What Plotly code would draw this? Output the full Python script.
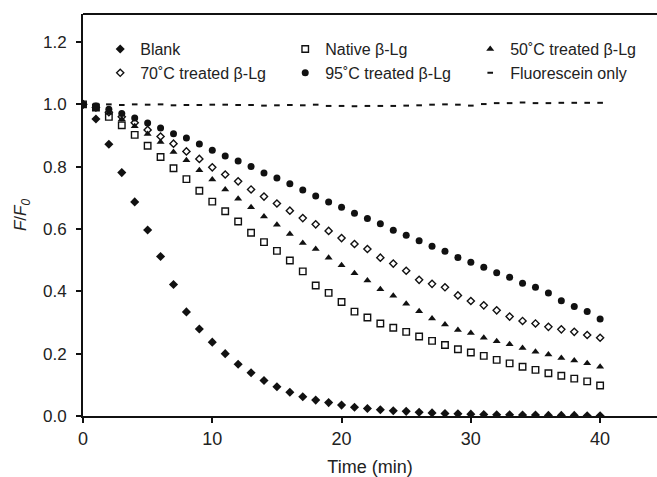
import plotly.graph_objects as go

time = list(range(0, 41))

blank = [1.0, 0.953, 0.872, 0.781, 0.687, 0.597, 0.512, 0.422, 0.334, 0.279,
         0.237, 0.200, 0.166, 0.139, 0.114, 0.094, 0.076, 0.062, 0.051, 0.043,
         0.035, 0.028, 0.024, 0.020, 0.017, 0.015, 0.012, 0.010, 0.008, 0.007,
         0.006, 0.005, 0.004, 0.004, 0.003, 0.003, 0.002, 0.002, 0.002, 0.001, 0.001]

native = [1.0, 0.990, 0.960, 0.933, 0.902, 0.867, 0.831, 0.795, 0.760, 0.723,
          0.688, 0.657, 0.624, 0.588, 0.558, 0.530, 0.499, 0.464, 0.419, 0.395,
          0.366, 0.335, 0.316, 0.297, 0.283, 0.270, 0.255, 0.241, 0.228, 0.214,
          0.204, 0.193, 0.180, 0.169, 0.158, 0.148, 0.137, 0.129, 0.120, 0.111, 0.098]

t50 = [1.0, 0.987, 0.973, 0.952, 0.930, 0.905, 0.879, 0.847, 0.821, 0.789,
       0.759, 0.727, 0.697, 0.670, 0.640, 0.614, 0.584, 0.555, 0.536, 0.508,
       0.484, 0.458, 0.435, 0.407, 0.386, 0.360, 0.336, 0.313, 0.294, 0.276,
       0.266, 0.251, 0.240, 0.230, 0.218, 0.206, 0.197, 0.186, 0.178, 0.169, 0.158]

t70 = [1.0, 0.990, 0.975, 0.960, 0.941, 0.918, 0.897, 0.874, 0.849, 0.825,
       0.798, 0.775, 0.753, 0.727, 0.704, 0.682, 0.659, 0.635, 0.615, 0.594,
       0.571, 0.552, 0.536, 0.508, 0.489, 0.466, 0.437, 0.424, 0.413, 0.387,
       0.369, 0.355, 0.339, 0.319, 0.305, 0.297, 0.286, 0.278, 0.270, 0.260, 0.251]

t95 = [1.0, 0.995, 0.984, 0.971, 0.956, 0.940, 0.924, 0.906, 0.892, 0.873,
       0.853, 0.834, 0.818, 0.801, 0.780, 0.764, 0.745, 0.725, 0.706, 0.687,
       0.670, 0.651, 0.634, 0.617, 0.596, 0.580, 0.562, 0.545, 0.529, 0.509,
       0.493, 0.477, 0.460, 0.445, 0.426, 0.413, 0.395, 0.370, 0.351, 0.335, 0.311]

fluor = [1.000, 1.002, 1.000, 0.998, 1.000, 0.999, 1.000, 0.997, 0.998, 0.998,
         0.999, 0.999, 0.998, 0.998, 0.996, 0.997, 0.998, 0.997, 0.999, 0.995,
         0.995, 0.994, 0.995, 0.995, 0.995, 0.996, 0.997, 0.999, 1.000, 0.999,
         0.996, 1.001, 1.004, 1.004, 1.006, 1.004, 1.004, 1.005, 1.005, 1.005, 1.005]

names = ["Blank", "Native β-Lg", "50˚C treated β-Lg",
         "70˚C treated β-Lg", "95˚C treated β-Lg", "Fluorescein only"]

INK = "#111111"
FONT = "Liberation Sans, Arial, sans-serif"

series = [
    (blank, dict(symbol="diamond", size=7, color=INK)),
    (native, dict(symbol="square-open", size=6.5, color=INK, line=dict(width=1.4, color=INK))),
    (t50, dict(symbol="triangle-up", size=7, color=INK)),
    (t70, dict(symbol="diamond-open", size=5.5, color=INK, line=dict(width=1.4, color=INK))),
    (t95, dict(symbol="circle", size=7, color=INK)),
    (fluor, dict(symbol="line-ew", size=4, color=INK, line=dict(width=2, color=INK))),
]

fig = go.Figure()
for name, (ys, mk) in zip(names, series):
    fig.add_trace(go.Scatter(x=time, y=ys, mode="markers", name=name, marker=mk))

fig.update_layout(
    width=657, height=477,
    margin=dict(l=83, r=0, t=14, b=61),
    paper_bgcolor="white", plot_bgcolor="white",
    font=dict(family=FONT, size=16, color="#222222"),
    showlegend=True,
    legend=dict(orientation="h", x=0.03, xanchor="left", y=0.955, yanchor="top",
                entrywidth=140, entrywidthmode="pixels",
                font=dict(size=16, family=FONT, color="#222222"),
                bgcolor="rgba(0,0,0,0)", traceorder="normal",
                itemwidth=30, tracegroupgap=0),
    xaxis=dict(range=[0, 44.4], tickvals=[0, 10, 20, 30, 40], showgrid=False, zeroline=False,
               showline=True, linecolor=INK, linewidth=2, ticks="outside", ticklen=5,
               tickwidth=1.5, tickcolor=INK, tickfont=dict(size=18),
               title=dict(text="Time (min)", standoff=14, font=dict(size=18))),
    yaxis=dict(range=[0, 1.29], tickvals=[0, 0.2, 0.4, 0.6, 0.8, 1.0, 1.2], tickformat=".1f",
               showgrid=False, zeroline=False, showline=True, linecolor=INK, linewidth=2,
               ticks="outside", ticklen=5, tickwidth=1.5, tickcolor=INK,
               tickfont=dict(size=17), ticklabelstandoff=6,
               title=dict(text="<i>F</i>/<i>F</i><sub><i>0</i></sub>", standoff=12, font=dict(size=17))),
    shapes=[dict(type="line", xref="paper", yref="paper", x0=0, x1=1, y0=1, y1=1,
                 line=dict(color=INK, width=2))],
)

fig.write_html("out.html")
